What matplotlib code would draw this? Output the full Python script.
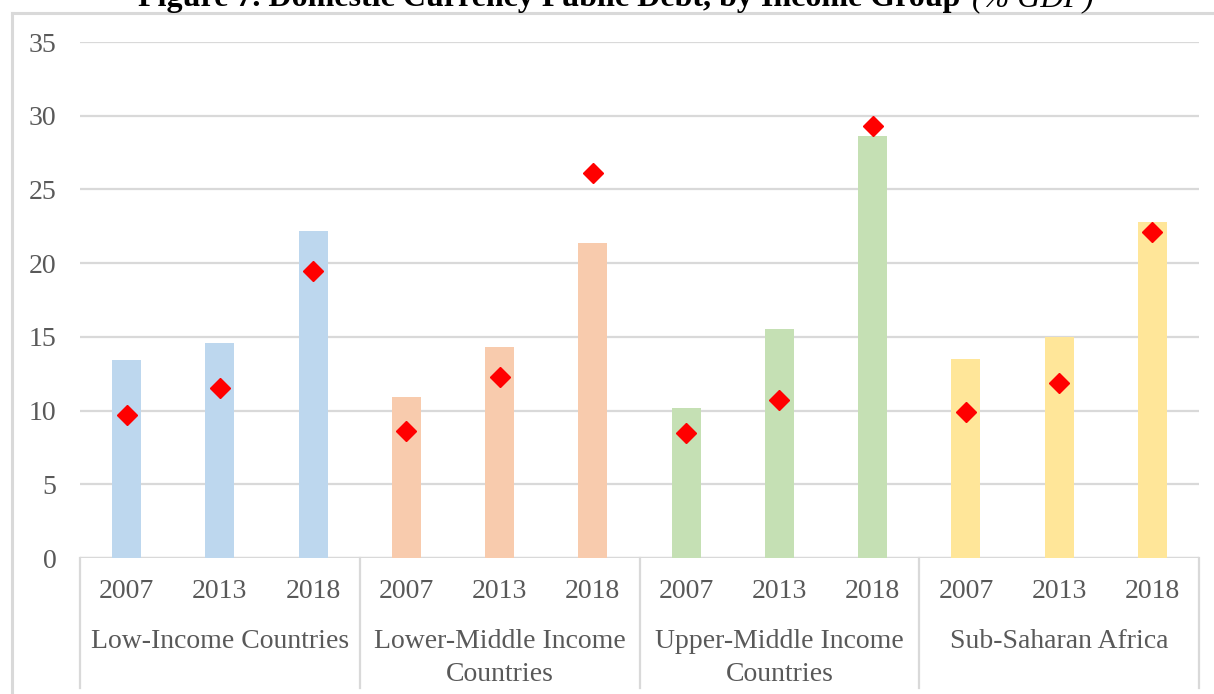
import matplotlib
matplotlib.use("Agg")
import matplotlib.pyplot as plt
from matplotlib.lines import Line2D
from matplotlib.transforms import blended_transform_factory

plt.rcParams['font.family'] = ['Liberation Serif', 'DejaVu Serif']

groups = ["Low-Income Countries", "Lower-Middle Income\nCountries",
          "Upper-Middle Income\nCountries", "Sub-Saharan Africa"]
years = ["2007", "2013", "2018"]
bar_values = [13.4, 14.6, 22.2,
              10.9, 14.3, 21.4,
              10.2, 15.5, 28.6,
              13.5, 15.0, 22.8]
diamond_values = [9.7, 11.5, 19.5,
                  8.6, 12.3, 26.1,
                  8.5, 10.7, 29.3,
                  9.9, 11.9, 22.1]
group_colors = ["#BDD7EE", "#F8CBAD", "#C5E0B4", "#FFE699"]
yticks = [0, 5, 10, 15, 20, 25, 30, 35]

W, H = 1214, 694
fig = plt.figure(figsize=(W / 100, H / 100), dpi=100)
ax = fig.add_axes([80 / W, (H - 558) / H, (1199 - 80) / W, (558 - 42) / H])

n = len(bar_values)
xs = list(range(n))
colors = [group_colors[i // 3] for i in range(n)]
ax.bar(xs, bar_values, width=0.31, color=colors, zorder=2)
ax.plot(xs, diamond_values, linestyle='none', marker='D', markersize=10,
        color='#FF0000', zorder=3)

ax.set_xlim(-0.5, n - 0.5)
ax.set_ylim(0, 35)
ax.set_yticks(yticks)
ax.set_yticklabels([str(t) for t in yticks], fontsize=20, color='#595959')
ax.tick_params(axis='y', length=0, pad=17)
ax.set_xticks([])
ax.grid(axis='y', color='#D9D9D9', linewidth=1.6, zorder=0)
for s in ax.spines.values():
    s.set_visible(False)
ax.axhline(0, color='#D9D9D9', linewidth=1.6, zorder=1)

# category labels
trans = blended_transform_factory(ax.transData, fig.transFigure)
for i in range(n):
    ax.text(xs[i], 1 - 591 / H, years[i % 3], transform=trans, ha='center',
            va='center', fontsize=20, color='#595959')
for g, name in enumerate(groups):
    ax.text(3 * g + 1, 1 - 629 / H, name, transform=trans, ha='center',
            va='top', fontsize=20, color='#595959', linespacing=1.4)
for k in range(len(groups) + 1):
    x = 3 * k - 0.5
    ax.add_line(Line2D([x, x], [1 - 558 / H, 1 - 688 / H], transform=trans,
                       color='#D9D9D9', linewidth=1.6, clip_on=False))

# outer frame
fig.add_artist(Line2D([12 / W, 12 / W], [0, 1 - 13 / H], color='#D9D9D9',
                      linewidth=2.2, transform=fig.transFigure))
fig.add_artist(Line2D([12 / W, 1], [1 - 13 / H, 1 - 13 / H], color='#D9D9D9',
                      linewidth=2.2, transform=fig.transFigure))

# title (clipped at top, as in the reference)
fig.text(968 / W, 1 - 6 / H, "Figure 7. Domestic Currency Public Debt, by Income Group ",
         ha='right', va='baseline', fontsize=23, fontweight='bold', color='black')
fig.text(972 / W, 1 - 6 / H, "(% GDP)", ha='left', va='baseline', fontsize=23,
         fontstyle='italic', color='black')

fig.savefig("out.png", dpi=100, facecolor='white')
